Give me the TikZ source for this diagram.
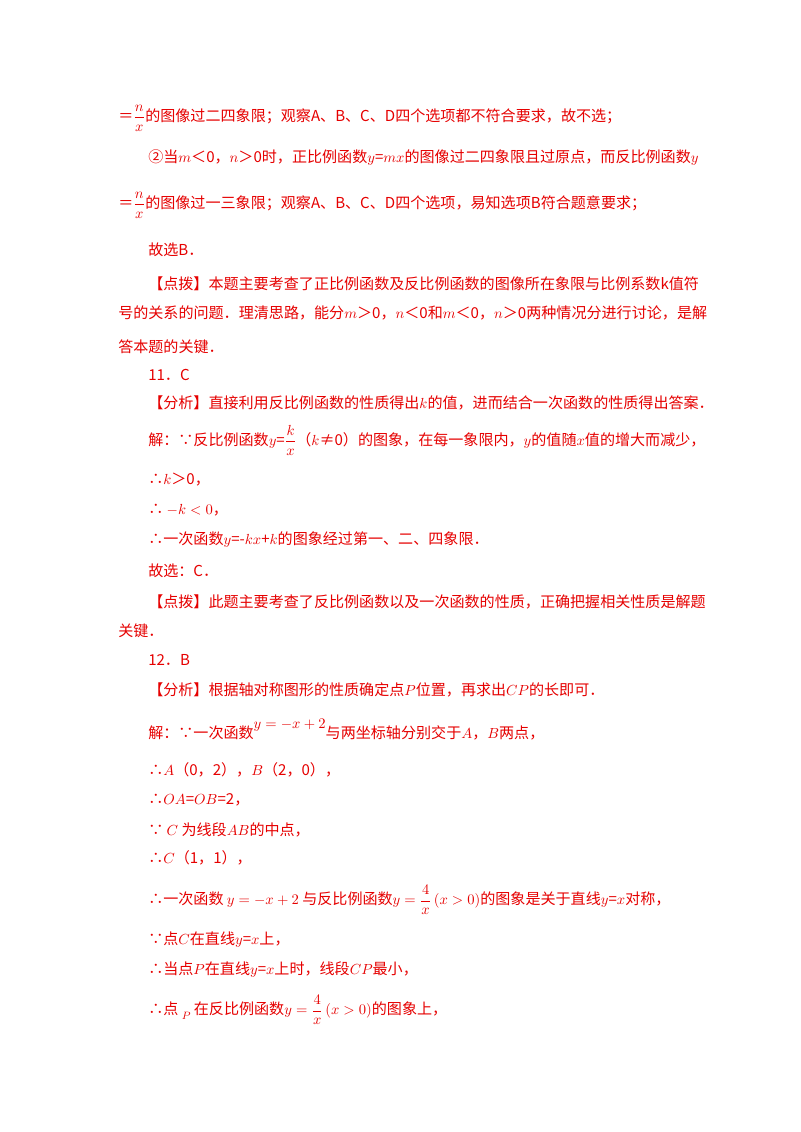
\documentclass[tikz,border=0pt]{standalone}
\usepackage{fontspec}
\newfontfamily\cjk{Noto Sans CJK SC}
\definecolor{tred}{RGB}{230,0,0}
\newcommand{\tline}[3]{\node[tl] at (#1,#2) {#3};}
\newcommand{\fr}[2]{$\displaystyle\frac{#1}{#2}$}
\begin{document}
\begin{tikzpicture}[x=0.75pt,y=-0.75pt,
  tl/.style={anchor=west,inner sep=0pt,text=tred,font=\cjk\fontsize{11.3}{14}\selectfont}]
\useasboundingbox (0,0) rectangle (800,1132);
\fill[white] (0,0) rectangle (800,1132);
\tline{118}{118}{＝\fr{n}{x}的图像过二四象限；观察A、B、C、D四个选项都不符合要求，故不选；}
\tline{148}{158}{②当$m$＜0，$n$＞0时，正比例函数$y$=$mx$的图像过二四象限且过原点，而反比例函数$y$}
\tline{118}{205}{＝\fr{n}{x}的图像过一三象限；观察A、B、C、D四个选项，易知选项B符合题意要求；}
\tline{148}{250}{故选B．}
\tline{148}{284}{【点拨】本题主要考查了正比例函数及反比例函数的图像所在象限与比例系数k值符}
\tline{118}{313}{号的关系的问题．理清思路，能分$m$＞0，$n$＜0和$m$＜0，$n$＞0两种情况分进行讨论，是解}
\tline{118}{347}{答本题的关键．}
\tline{148}{375}{11．C}
\tline{148}{403}{【分析】直接利用反比例函数的性质得出$k$的值，进而结合一次函数的性质得出答案．}
\tline{148}{440}{解：∵反比例函数$y$=\fr{k}{x}（$k$≠0）的图象，在每一象限内，$y$的值随$x$值的增大而减少，}
\tline{148}{480}{∴$k$＞0，}
\tline{148}{510}{∴ $-k<0$，}
\tline{148}{540}{∴一次函数$y$=-$kx$+$k$的图象经过第一、二、四象限．}
\tline{148}{571}{故选：C．}
\tline{148}{602}{【点拨】此题主要考查了反比例函数以及一次函数的性质，正确把握相关性质是解题}
\tline{118}{631}{关键．}
\tline{148}{660}{12．B}
\tline{148}{690}{【分析】根据轴对称图形的性质确定点$P$位置，再求出$CP$的长即可．}
\tline{148}{730}{解：∵一次函数\raisebox{1.2ex}{$y=-x+2$}与两坐标轴分别交于$A$，$B$两点，}
\tline{148}{770}{∴$A$（0，2），$B$（2，0），}
\tline{148}{800}{∴$OA$=$OB$=2，}
\tline{148}{830}{∵ $C$ 为线段$AB$的中点，}
\tline{148}{858}{∴$C$（1，1），}
\tline{148}{900}{∴一次函数 $y=-x+2$ 与反比例函数$\displaystyle y=\frac{4}{x}\left(x>0\right)$的图象是关于直线$y$=$x$对称，}
\tline{148}{940}{∵点$C$在直线$y$=$x$上，}
\tline{148}{970}{∴当点$P$在直线$y$=$x$上时，线段$CP$最小，}
\tline{148}{1010}{∴点 \raisebox{-0.6ex}{$\scriptstyle P$} 在反比例函数$\displaystyle y=\frac{4}{x}\left(x>0\right)$的图象上，}
\end{tikzpicture}
\end{document}
